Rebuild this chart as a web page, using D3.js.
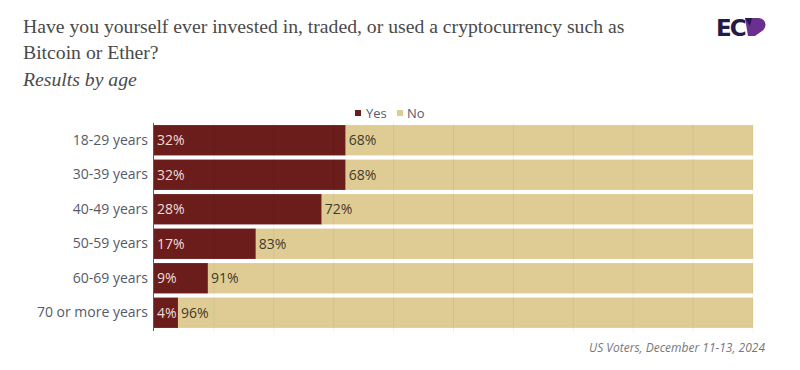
<!DOCTYPE html>
<html><head><meta charset="utf-8">
<script src="https://cdn.jsdelivr.net/npm/d3@7"></script>
<style>body{margin:0;background:#fff}svg{display:block}</style>
</head><body><svg id="c" width="800" height="370"></svg>
<script>
const categories = ["18-29 years","30-39 years","40-49 years","50-59 years","60-69 years","70 or more years"];
const yesValues = [32,32,28,17,9,4];
const noValues = [68,68,72,83,91,96];
const seriesNames = ["Yes","No"];
const gridTicks = [0,10,20,30,40,50,60,70,80,90,100];

const svg = d3.select("#c");
const margin = {left:154, right:47, top:123, bottom:40};
const W = 800, H = 370;
const x = d3.scaleLinear().domain([0,100]).range([margin.left, W - margin.right]);
const y = d3.scaleBand().domain(categories).range([margin.top, H - margin.bottom]).paddingInner(0.12).paddingOuter(0.06);
const colors = {Yes:"#6b1d1b", No:"#dfcc95"};
const sans = "'Open Sans', sans-serif";
const serif = "'Liberation Serif', serif";

// title
svg.append("text").attr("x",23).attr("y",33).attr("font-family",serif).attr("font-size",19.7).attr("fill","#4a4a4a").text("Have you yourself ever invested in, traded, or used a cryptocurrency such as");
svg.append("text").attr("x",23).attr("y",59).attr("font-family",serif).attr("font-size",19.7).attr("fill","#4a4a4a").text("Bitcoin or Ether?");
svg.append("text").attr("x",23).attr("y",86).attr("font-family",serif).attr("font-style","italic").attr("font-size",19.7).attr("fill","#4a4a4a").text("Results by age");

// logo
svg.append("text").attr("x",716).attr("y",36).attr("font-family","'DejaVu Sans', sans-serif").attr("font-weight","bold").attr("font-size",23).attr("letter-spacing",-2).attr("fill","#241a45").text("EC");
svg.append("path").attr("d","M745,18 L758,18 C766,18 768,27 762,31 L755,36 L748,36 Z").attr("fill","#6a2f8f");
svg.append("path").attr("d","M745,18 L752,18 L750,26 Z").attr("fill","#241a45");

// legend
const lg = svg.append("g").attr("font-family",sans).attr("font-size",13).attr("fill","#555a6a");
lg.append("rect").attr("x",355).attr("y",110).attr("width",6).attr("height",6).attr("fill",colors.Yes);
lg.append("text").attr("x",366).attr("y",117.5).text(seriesNames[0]);
lg.append("rect").attr("x",397).attr("y",110).attr("width",6).attr("height",6).attr("fill",colors.No);
lg.append("text").attr("x",407).attr("y",117.5).text(seriesNames[1]);

const rows = categories.map((c,i)=>({cat:c, yes:yesValues[i], no:noValues[i]}));

// bars
svg.append("g").selectAll("rect").data(rows).join("rect")
  .attr("x",x(0)).attr("y",d=>y(d.cat)).attr("width",d=>x(d.yes)-x(0)).attr("height",y.bandwidth()).attr("fill",colors.Yes);
svg.append("g").selectAll("rect").data(rows).join("rect")
  .attr("x",d=>x(d.yes)).attr("y",d=>y(d.cat)).attr("width",d=>x(d.yes+d.no)-x(d.yes)).attr("height",y.bandwidth()).attr("fill",colors.No);

// faint gridlines
svg.append("g").selectAll("line").data(gridTicks.slice(1)).join("line")
  .attr("x1",d=>x(d)).attr("x2",d=>x(d)).attr("y1",margin.top).attr("y2",H-margin.bottom+3)
  .attr("stroke","#000").attr("stroke-opacity",0.05).attr("stroke-width",1);

// axis line
svg.append("line").attr("x1",x(0)-0.5).attr("x2",x(0)-0.5).attr("y1",margin.top).attr("y2",H-margin.bottom+1).attr("stroke","#555a6a").attr("stroke-width",1);

// category labels
const yAxis = d3.axisLeft(y).tickSize(0).tickPadding(5);
const ga = svg.append("g").attr("transform",`translate(${x(0)-1},0)`).call(yAxis);
ga.select(".domain").remove();
ga.selectAll("text").attr("font-family",sans).attr("font-size",14).attr("fill","#555a6a");

// value labels
svg.append("g").selectAll("text").data(rows).join("text")
  .attr("x",x(0)+3).attr("y",d=>y(d.cat)+y.bandwidth()/2).attr("dy","0.35em")
  .attr("font-family",sans).attr("font-size",14).attr("fill","#f3dcd6").text(d=>d.yes+"%");
svg.append("g").selectAll("text").data(rows).join("text")
  .attr("x",d=>x(d.yes)+3).attr("y",d=>y(d.cat)+y.bandwidth()/2).attr("dy","0.35em")
  .attr("font-family",sans).attr("font-size",14).attr("fill","#3f3b2c").text(d=>d.no+"%");

// source
svg.append("text").attr("x",765).attr("y",352).attr("text-anchor","end").attr("font-family",sans).attr("font-style","italic").attr("font-size",12).attr("fill","#777").text("US Voters, December 11-13, 2024");
</script></body></html>
